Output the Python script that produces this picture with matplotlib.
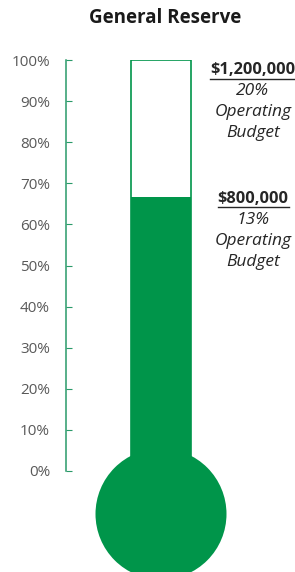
import matplotlib.pyplot as plt
from matplotlib.patches import Ellipse
import numpy as np

title = "General Reserve"
current = 800000
goal = 1200000
goal_pct_budget = 20
current_pct_budget = 13
yticks = np.arange(0, 101, 10)

green = "#00954a"
spine_green = "#2a9a6a"
gray = "#595959"
W, H = 295, 572

plt.rcParams['font.family'] = ['Open Sans', 'DejaVu Sans']

fig = plt.figure(figsize=(W / 100, H / 100), dpi=100)
# axes in pixel layout: spine at x=66, 100% at y=60, 0% at y=471
ax = fig.add_axes([66 / W, 1 - 471 / H, (W - 66) / W, 411 / H])
ax.set_xlim(66, W)
ax.set_ylim(0, 100)

pct = current / goal * 100
bx, bw = 161, 60
ax.bar(bx, 100, width=bw, color="white", edgecolor=green, linewidth=1.2, zorder=2)
ax.bar(bx, pct, width=bw, color=green, edgecolor=green, linewidth=0, zorder=3)
ax.bar(bx, 5, bottom=-5, width=bw, color=green, linewidth=0, zorder=3, clip_on=False)

# bulb: radius 65 px; y units are 100/411 per px
r = 65.5
yc = -(514 - 471) * 100 / 411
ax.add_patch(Ellipse((bx, yc), 2 * r, 2 * r * 100 / 411, color=green,
                     clip_on=False, zorder=3, linewidth=0))

for s in ["top", "right", "bottom"]:
    ax.spines[s].set_visible(False)
ax.spines["left"].set_color(spine_green)
ax.spines["left"].set_linewidth(1.1)
ax.set_xticks([])
ax.set_yticks(yticks)
ax.set_yticklabels([f"{t}%" for t in yticks])
ax.tick_params(axis="y", direction="in", length=4, color=spine_green,
               labelcolor=gray, labelsize=11, pad=11.5)

fig.text(165 / W, 1 - 18 / H, title, ha="center", va="center",
         fontsize=13.5, fontweight="bold", color="#1a1a1a")

amount_texts = []


def note(y, amount, share):
    tx = 253 / W
    t = fig.text(tx, 1 - y / H, f"${amount:,.0f}", ha="center", va="center",
                 fontsize=11.8, fontweight="bold", color="#262626")
    amount_texts.append((t, y))
    fig.text(tx, 1 - (y + 21) / H, f"{share}%", ha="center", va="center",
             fontsize=12.5, style="italic", color="#262626")
    fig.text(tx, 1 - (y + 42) / H, "Operating", ha="center", va="center",
             fontsize=12.5, style="italic", color="#262626")
    fig.text(tx, 1 - (y + 63) / H, "Budget", ha="center", va="center",
             fontsize=12.5, style="italic", color="#262626")


note(70, goal, goal_pct_budget)
note(199, current, current_pct_budget)

# underline the amounts
fig.canvas.draw()
r_ = fig.canvas.get_renderer()
for t, y in amount_texts:
    bb = t.get_window_extent(r_)
    fig.add_artist(plt.Line2D([bb.x0 / W, bb.x1 / W], [1 - (y + 8.5) / H] * 2,
                              color="#262626", linewidth=1.0))

fig.savefig("out.png", dpi=100)
